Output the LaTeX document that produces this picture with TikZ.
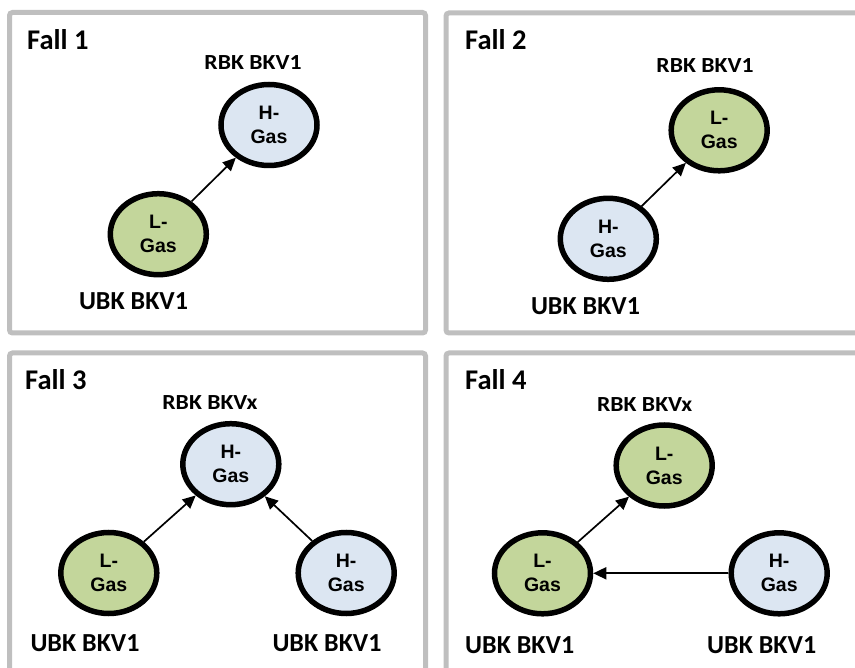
\documentclass[tikz,border=0pt]{standalone}
\usepackage{fontspec}
\setmainfont{Carlito}
\newfontfamily\gasfont{Liberation Sans}
\newfontfamily\rbkfont[FakeStretch=1.1]{Carlito}
\usetikzlibrary{arrows.meta, shapes.geometric}

\definecolor{lgas}{HTML}{C3D69B}
\definecolor{hgas}{HTML}{DCE6F2}
\definecolor{framegray}{HTML}{BFBFBF}

\tikzset{
  gas/.style = {ellipse, draw=black, line width=5.5pt, minimum width=96pt, minimum height=81pt,
    inner sep=0pt, align=center, font=\gasfont\bfseries\fontsize{19.5}{24}\selectfont},
  lgasnode/.style = {gas, fill=lgas},
  hgasnode/.style = {gas, fill=hgas},
  fall/.style = {anchor=base west, inner sep=0pt, font=\bfseries\fontsize{28.5}{34}\selectfont},
  rbk/.style = {anchor=base, inner sep=0pt, font=\rbkfont\bfseries\fontsize{21.5}{25}\selectfont},
  ubk/.style = {anchor=base, inner sep=0pt, font=\bfseries\fontsize{26}{31}\selectfont},
  flow/.style = {-{Triangle[length=13pt, width=12pt]}, line width=1.7pt},
  panel/.style = {draw=framegray, line width=5pt, rounded corners=3pt}
}

\begin{document}
\begin{tikzpicture} [x=1pt, y=-1pt]
    \useasboundingbox (0,0) rectangle (855,668);
    \clip (0,0) rectangle (855,668);

    % frames
    \draw [panel] (9.5,12.5) rectangle (425.5,333);
    \draw [panel] (446,13) rectangle (880,333);
    \draw [panel] (9.5,353) rectangle (425.5,700);
    \draw [panel] (446,353) rectangle (880,700);

    % Fall 1
    \node (fall1) [fall] at (27,49.5) {Fall 1};
    \node (rbk1) [rbk] at (253,70) {RBK BKV1};
    \node (r1) [hgasnode] at (269,125) {H-\\Gas};
    \node (u1) [lgasnode] at (158.3,234.2) {L-\\Gas};
    \node (ubk1) [ubk] at (133.5,310) {UBK BKV1};
    \path [flow] (u1) edge (r1);

    % Fall 2
    \node (fall2) [fall] at (465,49.5) {Fall 2};
    \node (rbk2) [rbk] at (705,72.7) {RBK BKV1};
    \node (r2) [lgasnode] at (719.2,130.3) {L-\\Gas};
    \node (u2) [hgasnode] at (608.3,238.8) {H-\\Gas};
    \node (ubk2) [ubk] at (585.5,315) {UBK BKV1};
    \path [flow] (u2) edge (r2);

    % Fall 3
    \node (fall3) [fall] at (25,389.3) {Fall 3};
    \node (rbk3) [rbk] at (210,410) {RBK BKVx};
    \node (r3) [hgasnode] at (230.8,464.2) {H-\\Gas};
    \node (u3a) [lgasnode] at (108.8,573) {L-\\Gas};
    \node (u3b) [hgasnode] at (346.2,573) {H-\\Gas};
    \node (ubk3a) [ubk] at (85,651.7) {UBK BKV1};
    \node (ubk3b) [ubk] at (327,651.7) {UBK BKV1};
    \path [flow] (u3a) edge (r3);
    \path [flow] (u3b) edge (r3);

    % Fall 4
    \node (fall4) [fall] at (465,389.3) {Fall 4};
    \node (rbk4) [rbk] at (644.7,411.7) {RBK BKVx};
    \node (r4) [lgasnode] at (664.2,465.5) {L-\\Gas};
    \node (u4a) [lgasnode] at (542.5,573.3) {L-\\Gas};
    \node (u4b) [hgasnode] at (779.2,573.3) {H-\\Gas};
    \node (ubk4a) [ubk] at (519.7,653.3) {UBK BKV1};
    \node (ubk4b) [ubk] at (761.7,653.3) {UBK BKV1};
    \path [flow] (u4a) edge (r4);
    \path [flow] (u4b) edge (u4a);
\end{tikzpicture}
\end{document}
